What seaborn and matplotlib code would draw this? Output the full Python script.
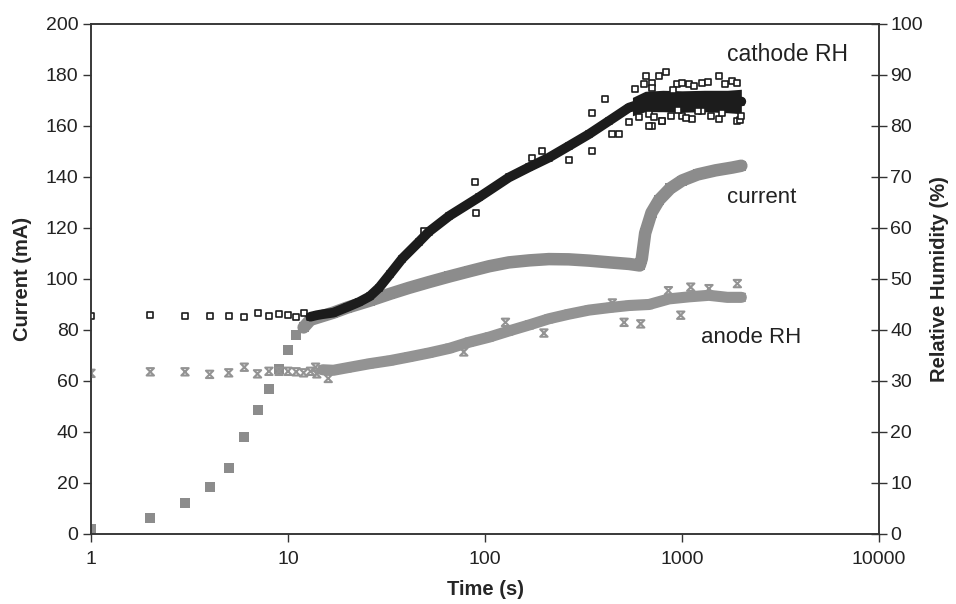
import numpy as np
import matplotlib
matplotlib.use("Agg")
import matplotlib.pyplot as plt
import seaborn as sns
from matplotlib.path import Path
from matplotlib.ticker import FixedLocator, NullLocator

# ---------------- data ----------------
# current (left axis, mA)
current_time = [1, 2, 3, 4, 5, 6, 7, 8, 9, 10, 11, 12, 13, 15, 17, 20, 26, 33, 41,
                52, 66, 83, 105, 132, 168, 211, 266, 337, 430, 538, 610, 625, 650,
                700, 765, 870, 1000, 1200, 1480, 1800, 2000]
current_mA = [2, 6.1, 12, 18.6, 25.8, 38, 48.5, 57, 64.8, 72, 78, 81, 84, 85.5, 86.8,
              88.8, 91.5, 94.2, 96.5, 98.8, 101, 103, 105, 106.5, 107.3, 107.8, 107.7,
              107.2, 106.5, 105.9, 105.3, 108, 118, 126, 131, 135.5, 138.6, 141,
              142.6, 143.7, 144.4]

# cathode RH (right axis, %)
cathode_time = [1, 2, 3, 4, 5, 6, 7, 8, 9, 10, 11, 12, 13, 14, 15, 17, 20, 23, 26, 29,
                33, 38, 46, 52, 66, 93, 132, 167, 211, 267, 337, 426, 538, 680, 860,
                1100, 1400, 1700, 2000]
cathode_rh = [42.8, 43.0, 42.7, 42.7, 42.7, 42.5, 43.3, 42.7, 43.1, 42.9, 42.6, 43.3,
              42.6, 42.9, 43.1, 43.4, 44.5, 45.5, 46.6, 48.3, 51.0, 54.0, 57.2, 59.3,
              62.4, 66.0, 69.9, 71.9, 73.8, 76.1, 78.4, 81.0, 83.6, 84.9, 85.0, 84.9,
              84.8, 84.9, 84.8]
# scattered cathode readings away from the main trace
cathode_out_time = [88.6, 89.5, 49, 174, 195, 267, 348, 406, 351, 443, 479, 538, 605,
                    577, 641, 653, 707, 764, 680, 707, 794, 827, 946, 1086, 1268, 1542,
                    1803, 1900, 721, 794, 875, 1003, 1128, 1268, 1542, 1909, 680, 700,
                    900, 1000, 1150, 1350, 1650, 1980, 2000, 1600, 1400, 1200, 950, 1050]
cathode_out_rh = [69.1, 62.9, 59.4, 73.8, 75.0, 73.3, 75.0, 85.3, 82.6, 78.4, 78.4,
                  80.7, 81.7, 87.2, 88.2, 89.8, 88.5, 89.8, 82.3, 80.0, 81.0, 90.5, 88.2,
                  88.2, 88.5, 89.8, 88.8, 88.5, 81.7, 81.0, 82.0, 82.0, 81.3, 83.0, 81.3,
                  81.0, 80.0, 87.5, 87.0, 88.5, 87.8, 88.6, 88.2, 81.2, 82.0, 82.5, 82.0,
                  83.0, 83.2, 81.5]
# spread of the dense cathode readings on the plateau
plateau_time = [560, 650, 800, 1000, 1300, 1700, 2000]
plateau_lo = [82.0, 82.8, 82.8, 82.7, 82.8, 82.6, 82.4]
plateau_hi = [85.6, 86.8, 87.0, 86.9, 87.0, 87.0, 87.2]

# anode RH (right axis, %)
anode_time = [1, 2, 3, 4, 5, 6, 7, 8, 9, 10, 11, 12, 13, 14, 15, 17, 20, 26, 33, 41,
              52, 66, 83, 105, 132, 168, 211, 266, 337, 430, 538, 680, 860, 1085, 1370,
              1700, 2000]
anode_rh = [31.5, 31.8, 31.8, 31.3, 31.6, 32.7, 31.4, 31.9, 31.9, 31.9, 31.8, 31.6,
            31.9, 31.4, 32.2, 32.1, 32.6, 33.4, 34.0, 34.7, 35.5, 36.4, 37.6, 38.6, 39.8,
            41.0, 42.2, 43.1, 43.9, 44.4, 44.8, 45.0, 46.1, 46.5, 46.8, 46.4, 46.4]
anode_out_time = [13.8, 16, 78, 127, 199, 443, 508, 617, 853, 1107, 1370, 1909, 985]
anode_out_rh = [32.7, 30.5, 35.7, 41.5, 39.4, 45.3, 41.5, 41.2, 47.7, 48.4, 48.1, 49.1,
                42.9]

x_ticks = [1, 10, 100, 1000, 10000]
x_tick_labels = ["1", "10", "100", "1000", "10000"]
left_ticks = list(range(0, 201, 20))
right_ticks = list(range(0, 101, 10))

# ---------------- drawing ----------------
sns.set_style("ticks")
plt.rcParams["font.family"] = ["Liberation Sans", "DejaVu Sans"]

fig = plt.figure(figsize=(9.56, 6.04), dpi=100)
ax = fig.add_axes([0.0952, 0.1159, 0.8243, 0.8444])
ax2 = ax.twinx()

grey = "#8c8c8c"
agrey = "#939393"
black = "#1c1c1c"

ct = np.array(current_time, float)
cv = np.array(current_mA, float)
m = ct >= 12
sns.lineplot(x=ct[m], y=cv[m], ax=ax, color=grey, linewidth=9,
             estimator=None, sort=False)
sns.scatterplot(x=ct, y=cv, ax=ax, marker="s", s=56, color=grey,
                edgecolor=grey, linewidth=0)

# anode
hourglass = Path([(-1, 1), (1, 1), (-1, -1), (1, -1), (-1, 1)],
                 [Path.MOVETO, Path.LINETO, Path.LINETO, Path.LINETO, Path.CLOSEPOLY])
at = np.array(anode_time, float)
av = np.array(anode_rh, float)
ma = at >= 15
sns.lineplot(x=at[ma], y=av[ma], ax=ax2, color=agrey, linewidth=8,
             estimator=None, sort=False)
sns.scatterplot(x=np.r_[at, anode_out_time], y=np.r_[av, anode_out_rh], ax=ax2,
                marker=hourglass, s=28, facecolor="none", edgecolor=agrey,
                linewidth=1.5)

# cathode
kt = np.array(cathode_time, float)
kv = np.array(cathode_rh, float)
mk = kt >= 13
sns.lineplot(x=kt[mk], y=kv[mk], ax=ax2, color=black, linewidth=7,
             estimator=None, sort=False)
ax2.fill_between(plateau_time, plateau_lo, plateau_hi, color=black, linewidth=0)
sns.scatterplot(x=np.r_[kt, cathode_out_time], y=np.r_[kv, cathode_out_rh], ax=ax2,
                marker="s", s=18, facecolor="white", edgecolor=black, linewidth=1.2)

# text labels
ax.text(1690, 188, "cathode RH", fontsize=16.5, color="#222222", va="center", ha="left")
ax.text(1690, 132, "current", fontsize=16, color="#222222", va="center", ha="left")
ax.text(1250, 77, "anode RH", fontsize=16, color="#222222", va="center", ha="left")

# axes
ax.set_xscale("log")
ax.set_xlim(1, 10000)
ax.set_ylim(0, 200)
ax2.set_ylim(0, 100)
ax.xaxis.set_major_locator(FixedLocator(x_ticks))
ax.xaxis.set_minor_locator(NullLocator())
ax.set_xticklabels(x_tick_labels)
ax.set_yticks(left_ticks)
ax2.set_yticks(right_ticks)

ax.set_xlabel("Time (s)", fontsize=14.5, fontweight="bold", labelpad=9)
ax.set_ylabel("Current (mA)", fontsize=14.5, fontweight="bold", labelpad=10)
ax2.set_ylabel("Relative Humidity (%)", fontsize=14.5, fontweight="bold", labelpad=5)

for a in (ax, ax2):
    for s in a.spines.values():
        s.set_visible(True)
        s.set_color("#333333")
        s.set_linewidth(1.1)
ax.tick_params(axis="x", direction="out", length=6, width=1, labelsize=14, pad=6,
               colors="#333333", labelcolor="#222222")
ax.tick_params(axis="y", direction="out", length=6, width=1, labelsize=14, pad=3,
               colors="#333333", labelcolor="#222222")
ax2.tick_params(axis="y", direction="inout", length=12, width=1, labelsize=14, pad=2,
                colors="#333333", labelcolor="#222222")

fig.savefig("out.png", dpi=100)
